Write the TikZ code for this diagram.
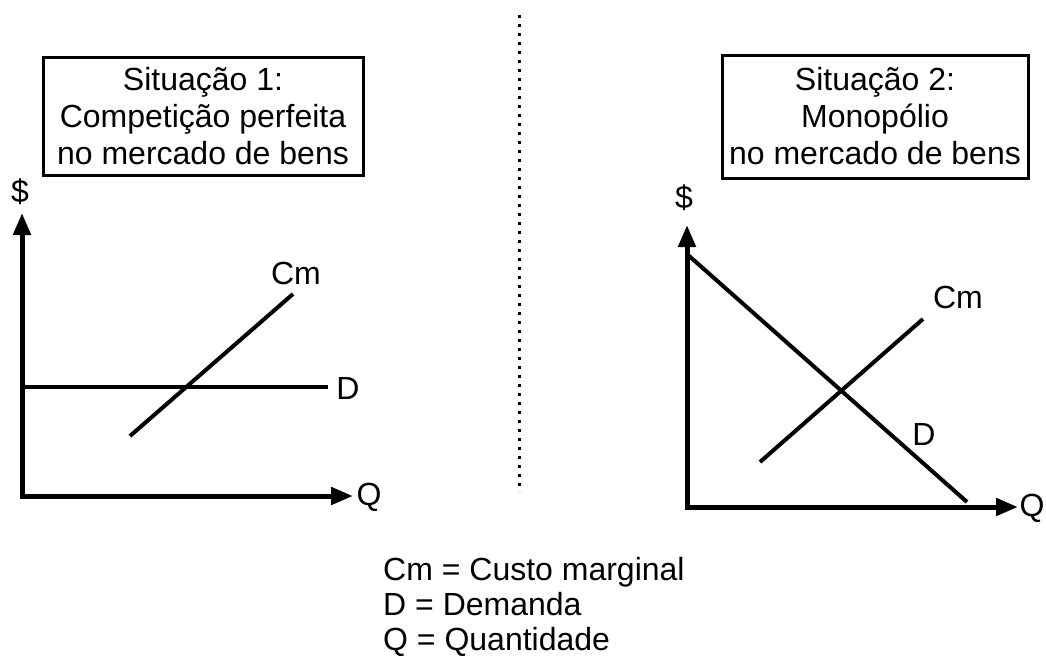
\documentclass[tikz,border=0pt]{standalone}
\usepackage{fontspec}
\setmainfont{Liberation Sans}
\usetikzlibrary{arrows.meta}
\usetikzlibrary{positioning}

\tikzset{
eixo/.style={line width=5pt,line join=miter,{Triangle[width=17pt,length=22pt]}-{Triangle[width=17pt,length=22pt]}},
curva/.style={line width=4pt},
rotulo/.style={font=\fontsize{32}{37}\selectfont,inner sep=0pt},
caixa/.style={draw,line width=3pt,align=center,font=\fontsize{32}{37}\selectfont,inner sep=0pt},
}

\begin{document}
\begin{tikzpicture}[x=1pt,y=-1pt]
\useasboundingbox (0,0) rectangle (1046,657);

% Situacao 1
\node[caixa,minimum width=320pt,minimum height=118pt] (S1) at (203,116) {Situação 1:\\Competição perfeita\\no mercado de bens};
\coordinate (O1) at (22,496);
\coordinate (Y1) at (22,213);
\coordinate (X1) at (353,496);
\draw[eixo] (Y1) -- (O1) -- (X1);
\node[rotulo] (P1) at (20,192) {\$};
\node[rotulo] (Q1) at (369,497) {Q};
\coordinate (D1a) at (22,387);
\coordinate (D1b) at (328,387);
\draw[curva] (D1a) -- (D1b);
\node[rotulo] (D1) at (348,388) {D};
\coordinate (C1a) at (130,436);
\coordinate (C1b) at (293,294);
\draw[curva] (C1a) -- (C1b);
\node[rotulo] (C1) at (296,273) {Cm};

% divisao
\coordinate (L1) at (519,15);
\coordinate (L2) at (519,492);
\draw[line width=3pt,dash pattern=on 3pt off 6pt] (L1) -- (L2);

% Situacao 2
\node[caixa,minimum width=306pt,minimum height=123pt] (S2) at (875,116.5) {Situação 2:\\Monopólio\\no mercado de bens};
\coordinate (O2) at (687,507);
\coordinate (Y2) at (687,225);
\coordinate (X2) at (1018,507);
\draw[eixo] (Y2) -- (O2) -- (X2);
\node[rotulo] (P2) at (684,198) {\$};
\node[rotulo] (Q2) at (1032,508) {Q};
\coordinate (D2a) at (688,255);
\coordinate (D2b) at (967,502);
\draw[curva] (D2a) -- (D2b);
\node[rotulo] (D2) at (924,434) {D};
\coordinate (C2a) at (760,462);
\coordinate (C2b) at (923,319);
\draw[curva] (C2a) -- (C2b);
\node[rotulo] (C2) at (958,297) {Cm};

% legenda
\node[rotulo,align=left,anchor=west,font=\fontsize{32}{35}\selectfont] (Leg) at (383,607) {Cm = Custo marginal\\D = Demanda\\Q = Quantidade};

\end{tikzpicture}
\end{document}
